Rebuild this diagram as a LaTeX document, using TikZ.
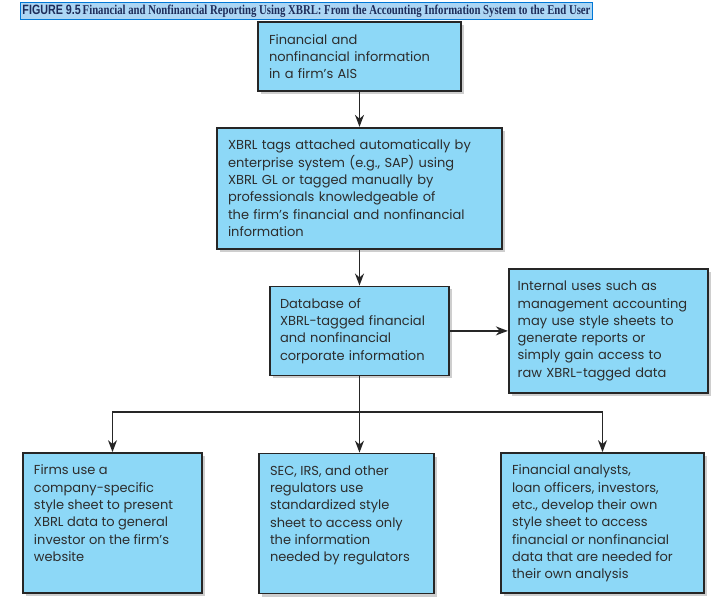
\documentclass[tikz,border=0pt]{standalone}
\usepackage{graphicx}
\usepackage{fontspec}
\setmainfont{Liberation Serif}
\setsansfont{Poppins}
\newfontfamily\capsans{Liberation Sans}
\usetikzlibrary{arrows.meta, positioning, shadows}

\definecolor{boxfill}{RGB}{141,216,247}
\definecolor{boxline}{RGB}{38,38,38}
\definecolor{boxtext}{RGB}{45,45,45}
\definecolor{capfill}{RGB}{172,214,244}
\definecolor{capline}{RGB}{0,120,215}
\definecolor{captext}{RGB}{30,45,90}

% top-aligned text for the three user boxes
\newcommand{\usertext}[2]{\parbox[c][116pt][t]{#1}{\raggedright #2}}

\begin{document}
\begin{tikzpicture}[
  x=1pt, y=-1pt,
  >={Stealth[length=12pt, width=9pt]},
  infobox/.style={draw=boxline, line width=1.7pt, fill=boxfill, rectangle, inner xsep=11pt, inner ysep=0pt, align=left, text=boxtext, font=\sffamily\fontsize{13}{17.3}\selectfont, drop shadow={shadow xshift=3pt, shadow yshift=-3pt, fill=black!35, opacity=0.55}},
  userbox/.style={infobox, inner ysep=12pt},
  captitle/.style={draw=capline, line width=0.8pt, fill=capfill, inner xsep=2pt, inner ysep=2pt, text=captext},
  flow/.style={->, line width=1.6pt, boxline},
  branch/.style={line width=1.6pt, boxline}
]
\useasboundingbox (0,0) rectangle (724,597);

\node[captitle] (Caption) at (306.5,11) {\resizebox{568pt}{9.5pt}{\capsans\bfseries FIGURE 9.5\,\rmfamily\bfseries Financial and Nonfinancial Reporting Using XBRL: From the Accounting Information System to the End User}};

\node[infobox, text width=181pt, minimum height=69pt] (AIS) at (359.5,56.5) {Financial and\\nonfinancial information\\in a firm’s AIS};
\node[infobox, text width=263pt, minimum height=121pt] (Tags) [below=35pt of AIS] {XBRL tags attached automatically by\\enterprise system (e.g., SAP) using\\XBRL GL or tagged manually by\\professionals knowledgeable of\\the firm’s financial and nonfinancial\\information};
\node[infobox, text width=159pt, minimum height=89pt, inner xsep=10pt] (DB) [below=36pt of Tags] {Database of\\XBRL-tagged financial\\and nonfinancial\\corporate information};
\node[infobox, text width=181pt, minimum height=124pt, inner xsep=9pt] (Intl) [right=58pt of DB] {Internal uses such as\\management accounting\\may use style sheets to\\generate reports or\\simply gain access to\\raw XBRL-tagged data};

\node[userbox] (Firm) at (112.5,523) {\usertext{157pt}{Firms use a\\company-specific\\style sheet to present\\XBRL data to general\\investor on the firm’s\\website}};
\node[userbox] (Reg) at (346.5,523.5) {\usertext{153pt}{SEC, IRS, and other\\regulators use\\standardized style\\sheet to access only\\the information\\needed by regulators}};
\node[userbox] (Anl) at (602.5,523) {\usertext{181pt}{Financial analysts,\\loan officers, investors,\\etc., develop their own\\style sheet to access\\financial or nonfinancial\\data that are needed for\\their own analysis}};

\coordinate (Split) at (359.5,412);

\draw[flow] (AIS) -- (Tags);
\draw[flow] (Tags) -- (DB);
\draw[flow] (DB) -- (Intl);
\draw[branch] (DB.south) -- (Split);
\draw[flow] (Split) -| (Firm.north);
\draw[flow] (Split) -- (Split |- Reg.north);
\draw[flow] (Split) -| (Anl.north);
\end{tikzpicture}
\end{document}
